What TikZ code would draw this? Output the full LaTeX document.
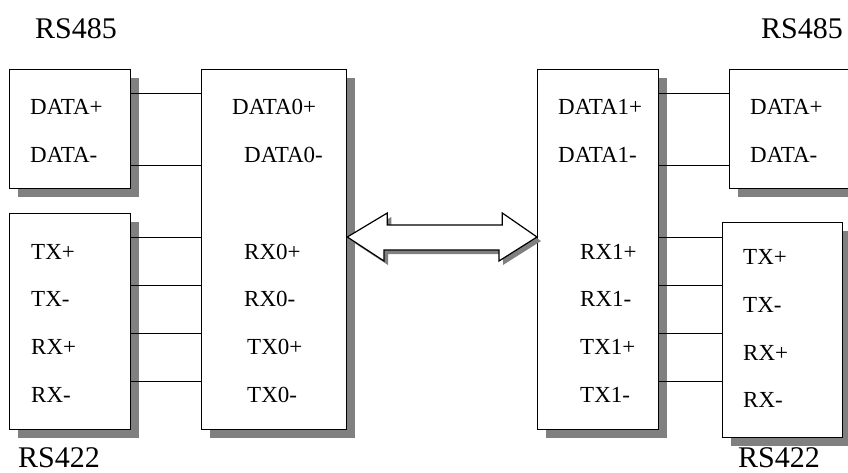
\documentclass[tikz,border=0pt]{standalone}
\usepackage{fontspec}
\setmainfont{Liberation Serif}
\usetikzlibrary{shadows}
\begin{document}
\begin{tikzpicture}[x=1pt,y=-1pt,
  box/.style={draw=black,line width=1.3pt,fill=white,inner sep=0pt,anchor=north west,
    drop shadow={shadow xshift=8pt,shadow yshift=-8pt,fill=black!50,opacity=1}},
  lbl/.style={anchor=base west,inner sep=0pt,font=\fontsize{23}{27}\selectfont},
  title/.style={anchor=base west,inner sep=0pt,font=\fontsize{30}{34}\selectfont},
  wire/.style={line width=1pt}]
\useasboundingbox (0,0) rectangle (848,472);
% boxes
\node[box,minimum width=121pt,minimum height=119pt] (L485) at (9,69) {};
\node[box,minimum width=121pt,minimum height=216pt] (L422) at (9,213) {};
\node[box,minimum width=145pt,minimum height=360pt] (LBig) at (201,69) {};
\node[box,minimum width=121pt,minimum height=360pt] (RBig) at (537,69) {};
\node[box,minimum width=130pt,minimum height=119pt] (R485) at (729,69) {};
\node[box,minimum width=120pt,minimum height=215pt] (R422) at (722,222) {};
% titles
\node[title] (t1) at (35,38) {RS485};
\node[title] (t2) at (761,38) {RS485};
\node[title] (t3) at (18,467) {RS422};
\node[title] (t4) at (738,467) {RS422};
% left RS485 texts
\node[lbl] (a1) at (30,114.5) {DATA+};
\node[lbl] (a2) at (30,162.5) {DATA-};
% left big box texts
\node[lbl] (b1) at (232,114.5) {DATA0+};
\node[lbl] (b2) at (244,162.5) {DATA0-};
\node[lbl] (b3) at (244,259.5) {RX0+};
\node[lbl] (b4) at (244,306.5) {RX0-};
\node[lbl] (b5) at (247,354.5) {TX0+};
\node[lbl] (b6) at (247,402.5) {TX0-};
% left RS422 texts
\node[lbl] (c1) at (31,259.5) {TX+};
\node[lbl] (c2) at (31,306.5) {TX-};
\node[lbl] (c3) at (31,354.5) {RX+};
\node[lbl] (c4) at (31,402.5) {RX-};
% right big box texts
\node[lbl] (d1) at (558,114.5) {DATA1+};
\node[lbl] (d2) at (558,162.5) {DATA1-};
\node[lbl] (d3) at (580,259.5) {RX1+};
\node[lbl] (d4) at (580,306.5) {RX1-};
\node[lbl] (d5) at (580,354.5) {TX1+};
\node[lbl] (d6) at (580,402.5) {TX1-};
% right RS485 texts
\node[lbl] (e1) at (750,114.5) {DATA+};
\node[lbl] (e2) at (750,162.5) {DATA-};
% right RS422 texts
\node[lbl] (f1) at (743,264.5) {TX+};
\node[lbl] (f2) at (743,312.5) {TX-};
\node[lbl] (f3) at (743,360.5) {RX+};
\node[lbl] (f4) at (743,407.5) {RX-};
% wires
\foreach \yy in {93,165}{
  \draw[wire] (L485.east |- 0,\yy) -- (LBig.west |- 0,\yy);
  \draw[wire] (RBig.east |- 0,\yy) -- (R485.west |- 0,\yy);
}
\foreach \yy in {237,285,333,381}{
  \draw[wire] (L422.east |- 0,\yy) -- (LBig.west |- 0,\yy);
  \draw[wire] (RBig.east |- 0,\yy) -- (R422.west |- 0,\yy);
}
% double arrow
\coordinate (pl) at (LBig.east |- 0,237);
\coordinate (pr) at (RBig.west |- 0,237);
\fill[black!50] ([xshift=4pt,yshift=-4pt]pl) -- ++(40,-24) -- ++(0,12) -- ++(115,0) -- ++(0,-12)
  -- ([xshift=4pt,yshift=-4pt]pr) -- ++(-38,24) -- ++(0,-11) -- ++(-115,0) -- ++(0,11) -- cycle;
\draw[line width=1.2pt,fill=white,line join=miter] (pl) -- ++(40,-24) -- ++(0,12) -- ++(115,0) -- ++(0,-12)
  -- (pr) -- ++(-38,24) -- ++(0,-11) -- ++(-115,0) -- ++(0,11) -- cycle;
\end{tikzpicture}
\end{document}
